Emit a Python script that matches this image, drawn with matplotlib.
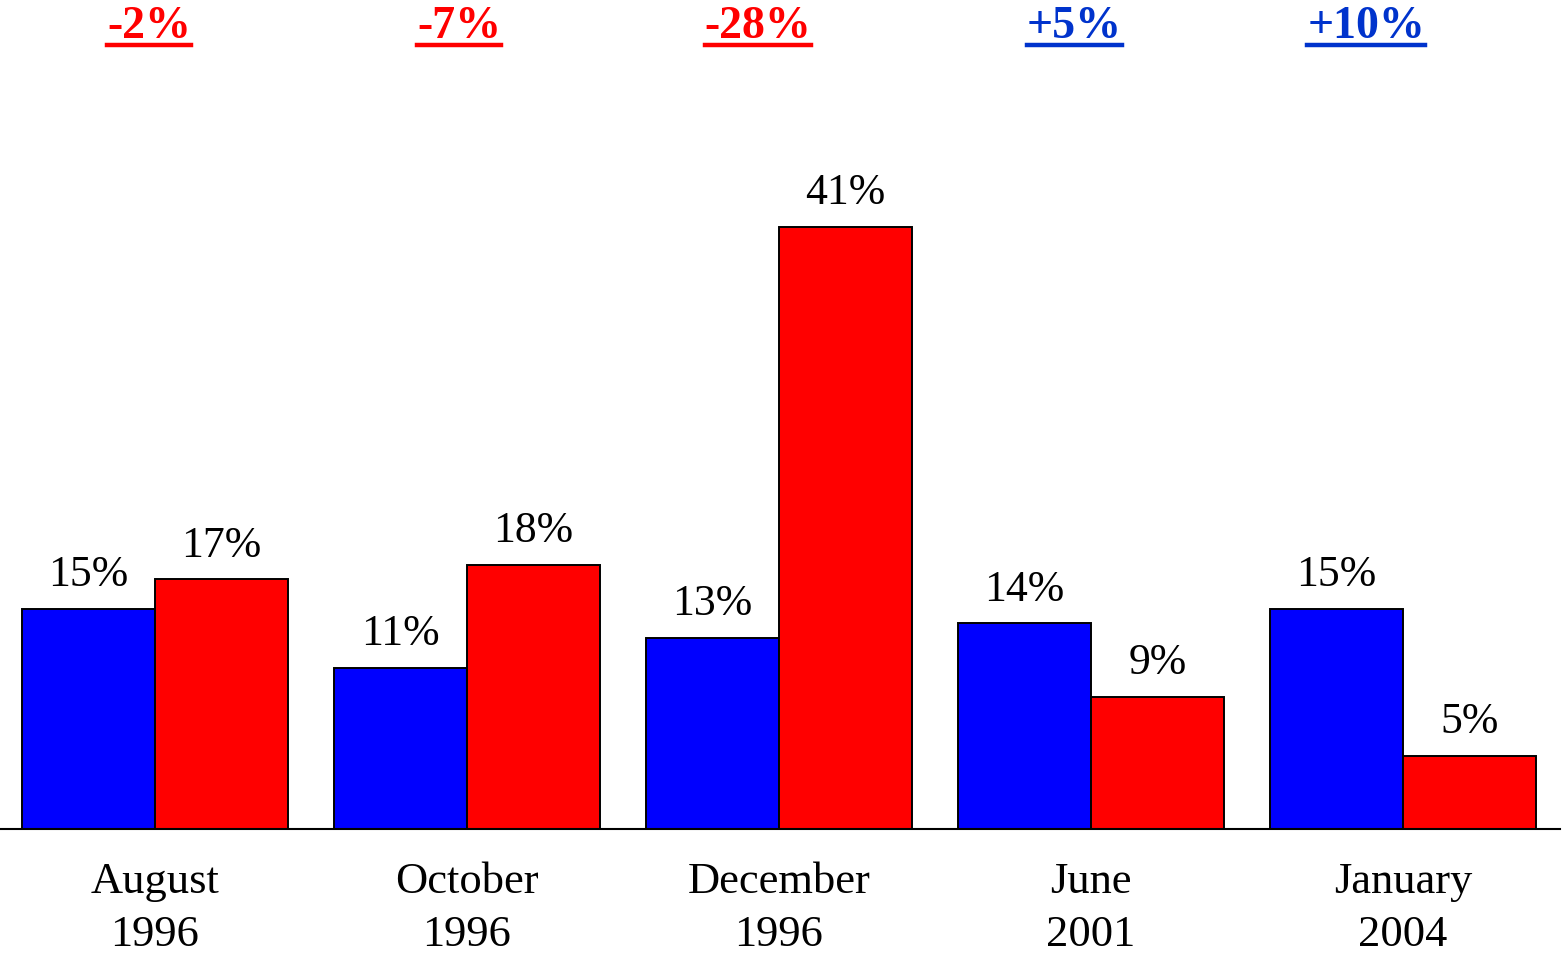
import matplotlib.pyplot as plt
import numpy as np

# data
categories = ["August\n1996", "October\n1996", "December\n1996", "June\n2001", "January\n2004"]
blue_vals = [15, 11, 13, 14, 15]
red_vals = [17, 18, 41, 9, 5]
changes = ["-2%", "-7%", "-28%", "+5%", "+10%"]

plt.rcParams['font.family'] = ['Liberation Serif', 'DejaVu Serif']

W, H = 1564, 955
fig = plt.figure(figsize=(W/100, H/100), dpi=100)
base = 829  # baseline pixel from top
ax = fig.add_axes([0, (H-base)/H, 1560/W, base/H])

px_per_unit = 312.0
px_per_pct = 14.68
x = np.arange(len(categories))
bw = 133/px_per_unit

ax.bar(x - bw/2, blue_vals, bw, color="#0000ff", edgecolor="black", linewidth=1.4, zorder=2)
ax.bar(x + bw/2, red_vals, bw, color="#ff0000", edgecolor="black", linewidth=1.4, zorder=2)

ax.set_xlim(-155/px_per_unit, (1560-155)/px_per_unit)
ax.set_ylim(0, base/px_per_pct)

for xi, b, r in zip(x, blue_vals, red_vals):
    ax.annotate(f"{b}%", (xi - bw/2, b), xytext=(0, 16.5), textcoords="offset points",
                ha="center", va="baseline", fontsize=31.5)
    ax.annotate(f"{r}%", (xi + bw/2, r), xytext=(0, 16.5), textcoords="offset points",
                ha="center", va="baseline", fontsize=31.5)

for s in ["top", "right", "left"]:
    ax.spines[s].set_visible(False)
ax.spines["bottom"].set_linewidth(1.5)
ax.set_yticks([])
ax.set_xticks(x)
ax.set_xticklabels(categories, fontsize=32, linespacing=1.42)
ax.tick_params(axis="x", length=0, pad=24)

# change labels on top, underlined
shift = [-6, -8, -21, -17, -37]
fig.canvas.draw()
r = fig.canvas.get_renderer()
for xi, lab, sh in zip(x, changes, shift):
    col = "#ff0000" if lab.startswith("-") else "#0033cc"
    xf = ax.transData.transform((xi, 0))[0] + sh
    t = fig.text(xf/W, (H-38)/H, lab, ha="center", va="baseline", fontsize=33,
                 fontweight="bold", color=col)
    bb = t.get_window_extent(r)
    yl = (H-45)/H
    fig.add_artist(plt.Line2D([bb.x0/W, bb.x1/W], [yl, yl], color=col, linewidth=3.2,
                              transform=fig.transFigure))

fig.savefig("out.png", dpi=100)
